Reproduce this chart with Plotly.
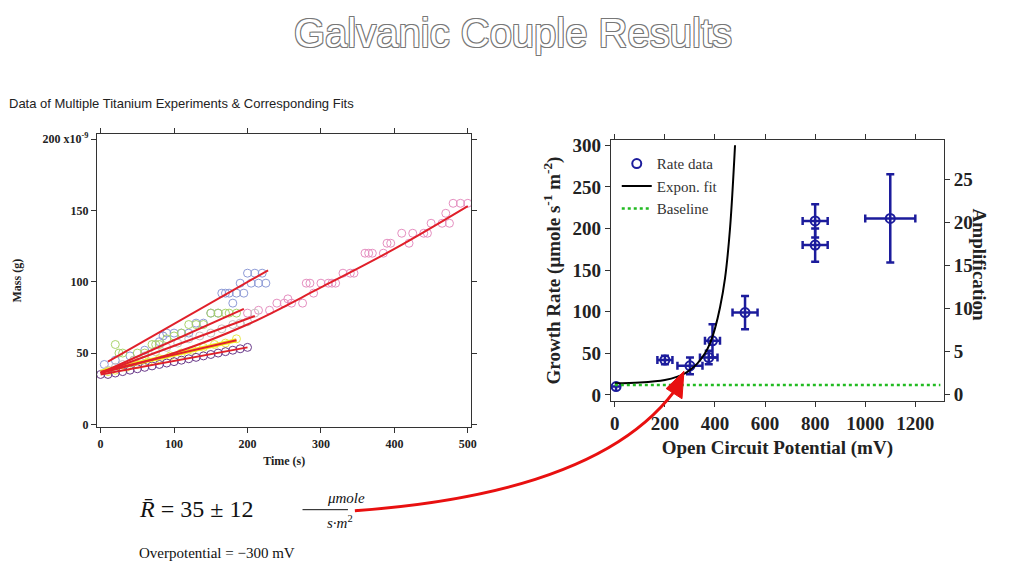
import plotly.graph_objects as go

W, H = 1013, 582

# ---- left panel data (mass in units of 1e-9 g) ----
pink_t = [200, 215, 230, 240, 250, 255, 260, 275, 280, 285, 290, 300, 310, 315, 320, 330, 340, 345, 360, 365,
          370, 385, 390, 395, 410, 420, 425, 440, 445, 450, 465, 470, 475, 480, 490, 500]
pink_m = [78, 80, 80, 85, 85, 88, 85, 85, 99, 99, 92, 99, 99, 99, 99, 106, 106, 106, 120, 120,
          120, 120, 127, 127, 134, 127, 134, 134, 134, 141, 141, 148, 141, 155, 155, 155]
blue_t = [5, 20, 40, 60, 80, 85, 90, 100, 110, 120, 130, 140, 150, 160, 165, 170, 175, 180, 185, 190, 195,
          200, 205, 210, 215, 220, 225]
blue_m = [42, 45, 48, 52, 58, 62, 64, 64, 64, 64, 71, 71, 78, 78, 92, 92, 92, 85, 92, 99, 92,
          106, 99, 106, 99, 106, 99]
green_t = [20, 25, 30, 45, 50, 60, 70, 75, 80, 90, 100, 110, 120, 130, 140, 150, 160, 170, 175, 185]
green_m = [56, 50, 50, 45, 50, 50, 56, 56, 56, 60, 62, 64, 70, 70, 70, 78, 78, 78, 78, 78]
gray_t = [10, 20, 30, 45, 60, 75, 90, 105, 120, 135, 150, 165, 180, 190, 200, 210]
gray_m = [38, 40, 42, 45, 48, 51, 54, 57, 60, 62, 64, 67, 70, 71, 72, 78]
yellow_t = [10, 20, 35, 50, 65, 80, 95, 110, 125, 140, 155, 170, 185]
yellow_m = [37, 38, 40, 42, 44, 46, 48, 50, 52, 54, 56, 57, 60]
purple_t = [0, 10, 20, 30, 40, 50, 60, 70, 80, 90, 100, 110, 120, 130, 140, 150, 160, 170, 180, 190, 200]
purple_m = [35, 35, 36, 37, 38, 39, 40, 41, 42, 43, 44, 45, 46, 47, 48, 49, 50, 51, 52, 53, 54]

fit_pink_t = [0, 100, 200, 300, 400, 500]
fit_pink_m = [36, 50, 70, 96, 123, 153]
fit_blue_t = [10, 228]
fit_blue_m = [44, 108]
fit_green_t = [0, 195]
fit_green_m = [36, 81]
fit_gray_t = [0, 210]
fit_gray_m = [36, 76]
fit_yellow_t = [0, 185]
fit_yellow_m = [37, 59]
fit_purple_t = [0, 200]
fit_purple_m = [35, 54]

# ---- right panel data ----
ocp = [5, 200, 300, 375, 390, 520, 800, 800, 1100]
rate = [10, 42, 35, 45, 65, 99, 180, 209, 212]
ocp_err = [0, 30, 50, 35, 30, 50, 50, 50, 100]
rate_err = [0, 5, 10, 8, 20, 20, 20, 20, 53]
exp_x = [0, 100, 200, 250, 280, 300, 330, 360, 380, 400, 420, 440, 460, 480]
exp_y = [14, 15, 18, 22, 26, 30, 38, 50, 62, 80, 105, 140, 200, 300]
base_x = [0, 1300]
base_y = [12, 12]
amp_ticks = [0, 5, 10, 15, 20, 25]

SERIF = "Liberation Serif"
fig = go.Figure()


# pixel -> paper (calibrated against the rendered page)
def fx(p):
    return (p - 5) / 1019


def fy(p):
    return 1 - (p - 18) / 562


scatter_sets = [
    (pink_t, pink_m, "#e58fc0"), (blue_t, blue_m, "#8d9ad6"), (green_t, green_m, "#a9d36a"),
    (gray_t, gray_m, "#c8c0c0"), (yellow_t, yellow_m, "#e8e84a"), (purple_t, purple_m, "#6a3a8a"),
]
for t, m, c in scatter_sets:
    fig.add_trace(go.Scatter(x=t, y=m, mode="markers", showlegend=False, xaxis="x", yaxis="y",
                             marker=dict(symbol="circle-open", size=8, color=c, line=dict(width=1))))
fig.add_trace(go.Scatter(x=fit_yellow_t, y=fit_yellow_m, mode="lines", showlegend=False,
                         line=dict(color="#f2e81a", width=4), xaxis="x", yaxis="y"))
for t, m in [(fit_pink_t, fit_pink_m), (fit_blue_t, fit_blue_m), (fit_green_t, fit_green_m),
             (fit_gray_t, fit_gray_m), (fit_yellow_t, fit_yellow_m), (fit_purple_t, fit_purple_m)]:
    fig.add_trace(go.Scatter(x=t, y=m, mode="lines", showlegend=False, line=dict(color="#e0202a", width=2),
                             line_shape="spline", xaxis="x", yaxis="y"))

# right panel
fig.add_trace(go.Scatter(x=ocp, y=rate, mode="markers", name="Rate data", xaxis="x2", yaxis="y2",
                         marker=dict(symbol="circle-open", size=9, color="#1c1c9c", line=dict(width=2)),
                         error_x=dict(type="data", array=ocp_err, color="#1c1c9c", thickness=2.5, width=4),
                         error_y=dict(type="data", array=rate_err, color="#1c1c9c", thickness=2.5, width=4)))
fig.add_trace(go.Scatter(x=exp_x, y=exp_y, mode="lines", name="Expon. fit", line_shape="spline",
                         line=dict(color="black", width=2), xaxis="x2", yaxis="y2"))
fig.add_trace(go.Scatter(x=base_x, y=base_y, mode="lines", name="Baseline",
                         line=dict(color="#22bb22", width=2.5, dash="dot"), xaxis="x2", yaxis="y2"))
# invisible trace so the amplification axis is drawn
fig.add_trace(go.Scatter(x=[0] * len(amp_ticks), y=amp_ticks, mode="markers", showlegend=False,
                         marker=dict(opacity=0), hoverinfo="skip", xaxis="x2", yaxis="y3"))

ax = dict(showline=True, linecolor="#333", linewidth=1, mirror="ticks", ticks="outside",
          showgrid=False, zeroline=False, tickcolor="#333")
lfont = dict(family=SERIF, size=12, color="#222", weight="bold")
rfont = dict(family=SERIF, size=19, color="#222", weight="bold")

fig.update_layout(
    width=W, height=H, margin=dict(l=0, r=0, t=0, b=0),
    paper_bgcolor="white", plot_bgcolor="white",
    xaxis=dict(ax, domain=[fx(94), fx(473)], range=[-5, 505], tickvals=[0, 100, 200, 300, 400, 500],
               tickfont=lfont, title=dict(text="Time (s)", font=lfont, standoff=6), anchor="y"),
    yaxis=dict(ax, domain=[fy(425), fy(137)], range=[-2, 203.5], tickvals=[0, 50, 100, 150, 200],
               ticktext=["0", "50", "100", "150", "200 x10<sup>-9</sup>"],
               tickfont=lfont, title=dict(text="Mass (g)", font=lfont, standoff=18), anchor="x"),
    xaxis2=dict(ax, domain=[fx(614), fx(951)], range=[-16, 1314], tickvals=[0, 200, 400, 600, 800, 1000, 1200],
                tickfont=rfont, anchor="y2",
                title=dict(text="Open Circuit Potential (mV)", font=rfont, standoff=8)),
    yaxis2=dict(ax, domain=[fy(399), fy(143)], range=[-7, 306], tickvals=[0, 50, 100, 150, 200, 250, 300],
                tickfont=rfont, anchor="x2", mirror=False,
                title=dict(text="Growth Rate (μmole s<sup>-1</sup> m<sup>-2</sup>)", font=rfont, standoff=6)),
    yaxis3=dict(ax, overlaying="y2", side="right", range=[-0.71, 29.6], tickvals=amp_ticks,
                tickfont=rfont, anchor="x2", mirror=False),
    legend=dict(x=fx(620), y=fy(150), xanchor="left", yanchor="top", bgcolor="rgba(0,0,0,0)",
                font=dict(family=SERIF, size=15, color="#333"), tracegroupgap=0),
)

ann = [
    dict(x=0.5, y=fy(38), text="Galvanic Couple Results", font=dict(family="Liberation Sans", size=40,
         color="white", shadow="1px 1px 0 #777, -1px -1px 0 #777, 1px -1px 0 #777, -1px 1px 0 #777")),
    dict(x=fx(3), y=fy(107), xanchor="left", text="Data of Multiple Titanium Experiments & Corresponding Fits",
         font=dict(family="Liberation Sans", size=13, color="#222")),
    dict(x=fx(1000), y=fy(265), text="Amplification", textangle=90,
         font=dict(family=SERIF, size=19, color="#222", weight="bold")),
    dict(x=fx(135), y=fy(505), xanchor="left", text="<i>R̄</i> = 35 ± 12",
         font=dict(family=SERIF, size=24, color="#111")),
    dict(x=fx(325), y=fy(495), text="<i>μmole</i>", font=dict(family=SERIF, size=15, color="#111")),
    dict(x=fx(325), y=fy(518), text="<i>s·m</i><sup>2</sup>", font=dict(family=SERIF, size=15, color="#111")),
    dict(x=fx(135), y=fy(549), xanchor="left", text="Overpotential = −300 mV",
         font=dict(family=SERIF, size=15, color="#111")),
]
for a in ann:
    a.update(xref="paper", yref="paper", showarrow=False, yanchor="middle")
    fig.add_annotation(**a)

fig.add_shape(type="line", xref="paper", yref="paper", x0=fx(302), x1=fx(348),
              y0=fy(506), y1=fy(506), line=dict(color="#111", width=1))
fig.add_shape(type="path", xref="paper", yref="paper",
              path=f"M {fx(355)} {fy(507)} Q {fx(600)} {fy(490)} {fx(678)} {fy(390)}",
              line=dict(color="#e81010", width=3))
fig.add_shape(type="path", xref="paper", yref="paper",
              path=f"M {fx(688)} {fy(370)} L {fx(670)} {fy(387)} L {fx(686)} {fy(397)} Z",
              fillcolor="#e81010", line=dict(color="#e81010", width=1))

fig.write_html("out.html")
